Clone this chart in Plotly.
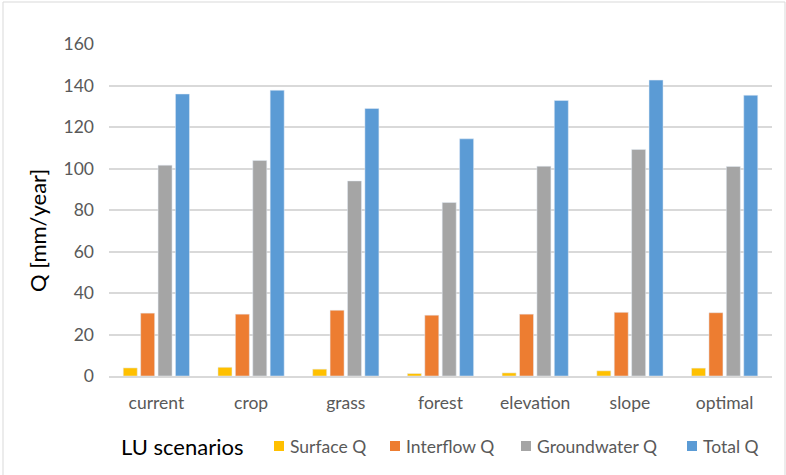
import plotly.graph_objects as go

# Land-use scenarios and discharge components (mm/year)
scenarios = ["current", "crop", "grass", "forest", "elevation", "slope", "optimal"]
surface_q = [3.9, 4.2, 3.3, 1.2, 1.5, 2.5, 3.8]
interflow_q = [30.3, 29.8, 31.7, 29.3, 29.8, 30.7, 30.5]
groundwater_q = [101.6, 103.9, 94.0, 83.6, 101.1, 109.2, 101.0]
total_q = [135.9, 137.7, 128.9, 114.3, 132.8, 142.6, 135.3]

series_names = ["Surface Q", "Interflow Q", "Groundwater Q", "Total Q"]
series_values = [surface_q, interflow_q, groundwater_q, total_q]
series_colors = ["#FFC000", "#ED7D31", "#A5A5A5", "#5B9BD5"]

y_ticks = [0, 20, 40, 60, 80, 100, 120, 140, 160]

W, H = 786, 475
ML, MR, MT, MB = 109, 14, 44, 99
PW, PH = W - ML - MR, H - MT - MB

FONT = "Lato, 'Open Sans', sans-serif"
GREY_TXT = "#595959"


def px(xp):
    return (xp - ML) / PW


def py(yp):
    return (H - MB - yp) / PH


fig = go.Figure()
for name, vals, col in zip(series_names, series_values, series_colors):
    fig.add_trace(go.Bar(x=scenarios, y=vals, name=name, marker_color=col,
                         showlegend=False))

# Axis captions
annotations = [
    dict(text="LU scenarios", x=px(119), y=py(446), xref="paper", yref="paper",
         xanchor="left", yanchor="middle", showarrow=False,
         font=dict(family=FONT, size=22, color="#000000")),
    dict(text="Q [mm/year]", x=px(37), y=py(231), xref="paper", yref="paper",
         xanchor="center", yanchor="middle", textangle=-90, showarrow=False,
         font=dict(family=FONT, size=22, color="#000000")),
]

# Legend row drawn beside the x-axis caption
legend_squares = [274, 390, 521, 687]
shapes = []
for name, col, sx in zip(series_names, series_colors, legend_squares):
    shapes.append(dict(type="rect", xref="paper", yref="paper",
                       x0=px(sx), x1=px(sx + 10), y0=py(451), y1=py(441),
                       fillcolor=col, line=dict(width=0)))
    annotations.append(dict(text=name, x=px(sx + 14), y=py(446), xref="paper", yref="paper",
                            xanchor="left", yanchor="middle", showarrow=False,
                            font=dict(family=FONT, size=17.5, color=GREY_TXT)))

# Chart border
shapes.append(dict(type="rect", xref="paper", yref="paper",
                   x0=px(3), x1=px(785), y0=py(480), y1=py(2),
                   line=dict(color="#D9D9D9", width=1), fillcolor="rgba(0,0,0,0)", layer="below"))

fig.update_layout(
    width=W, height=H,
    margin=dict(l=ML, r=MR, t=MT, b=MB),
    paper_bgcolor="white", plot_bgcolor="white",
    barmode="group", bargap=0.265, bargroupgap=0.195,
    font=dict(family=FONT, color=GREY_TXT),
    shapes=shapes, annotations=annotations,
    xaxis=dict(showgrid=False, showline=True, linecolor="#D9D9D9", linewidth=1.5,
               ticks="", tickfont=dict(size=17.5, color=GREY_TXT), ticklabelstandoff=10),
    yaxis=dict(range=[0, 160], tickvals=y_ticks, showgrid=True, gridcolor="#D9D9D9",
               gridwidth=1.5, zeroline=False, showline=False, ticks="",
               tickfont=dict(size=17.5, color=GREY_TXT), ticklabelstandoff=14),
)

fig.write_html("out.html")
